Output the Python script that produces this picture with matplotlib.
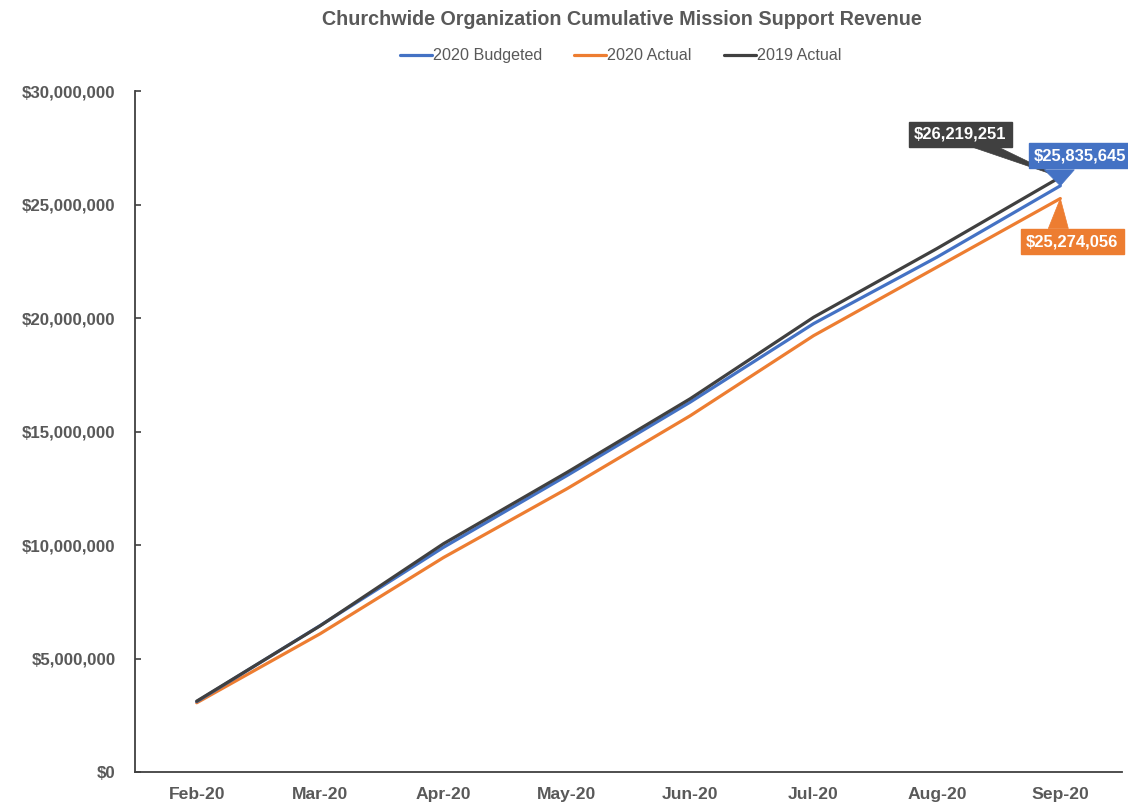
import matplotlib
matplotlib.use("Agg")
import matplotlib.pyplot as plt
from matplotlib.ticker import FuncFormatter
from matplotlib.patches import Polygon
from matplotlib.transforms import IdentityTransform

plt.rcParams['font.family'] = ['Liberation Sans', 'DejaVu Sans']

months = ["Feb-20", "Mar-20", "Apr-20", "May-20", "Jun-20", "Jul-20", "Aug-20", "Sep-20"]
budget_2020 = [3100000, 6450000, 9900000, 13060000, 16300000, 19760000, 22690000, 25835645]
actual_2020 = [3050000, 6090000, 9450000, 12480000, 15700000, 19230000, 22250000, 25274056]
actual_2019 = [3120000, 6440000, 10060000, 13200000, 16450000, 20040000, 23070000, 26219251]

c_blue = "#4472C4"
c_orange = "#ED7D31"
c_gray = "#404040"
txt = "#595959"

fig = plt.figure(figsize=(11.28, 8.08), dpi=100)
ax = fig.add_axes([0.1197, 0.0446, 0.8750, 0.8424])
x = list(range(len(months)))
ax.plot(x, actual_2020, color=c_orange, lw=2.3, label="2020 Actual", zorder=2, solid_capstyle='round')
ax.plot(x, budget_2020, color=c_blue, lw=2.3, label="2020 Budgeted", zorder=3, solid_capstyle='round')
ax.plot(x, actual_2019, color=c_gray, lw=2.3, label="2019 Actual", zorder=4, solid_capstyle='round')

ax.set_xlim(-0.5, len(months) - 0.5)
ax.set_ylim(0, 30000000)
ax.set_yticks(range(0, 30000001, 5000000))
ax.yaxis.set_major_formatter(FuncFormatter(lambda v, p: "${:,.0f}".format(v)))
ax.set_xticks(x)
ax.set_xticklabels(months)
for lab in ax.get_xticklabels():
    lab.set_fontweight('bold')
    lab.set_color(txt)
    lab.set_fontsize(12.6)
for lab in ax.get_yticklabels():
    lab.set_fontweight('bold')
    lab.set_color(txt)
    lab.set_fontsize(12.2)
ax.tick_params(axis='x', length=0, pad=11)
ax.tick_params(axis='y', length=4, direction='in', color=c_gray, width=1.2, pad=14)
for s in ['top', 'right']:
    ax.spines[s].set_visible(False)
for s in ['left', 'bottom']:
    ax.spines[s].set_color(c_gray)
    ax.spines[s].set_linewidth(1.3)

fig.text(0.551, 0.976, "Churchwide Organization Cumulative Mission Support Revenue",
         ha='center', va='center', fontsize=14.2, fontweight='bold', color=txt)

h, l = ax.get_legend_handles_labels()
order = [1, 0, 2]
leg = fig.legend([h[i] for i in order], [l[i] for i in order], loc='center',
                 bbox_to_anchor=(0.55, 0.931), ncol=3, frameon=False, fontsize=11.6,
                 handlelength=2.0, handletextpad=0.05, columnspacing=2.0, labelcolor=txt)

last = len(months) - 1
ident = IdentityTransform()

def callout(val, color, text_off, base):
    px, py = ax.transData.transform((last, val))
    poly = Polygon([(px + base[0][0], py + base[0][1]), (px + base[1][0], py + base[1][1]), (px, py)],
                   closed=True, fc=color, ec=color, lw=0.5, transform=ident, clip_on=False, zorder=9)
    fig.add_artist(poly)
    fig.text(px + text_off[0], py + text_off[1], "${:,.0f}".format(val), transform=ident,
             ha='center', va='center', fontsize=12, fontweight='bold', color='white', zorder=10,
             bbox=dict(boxstyle='square,pad=0.3', fc=color, ec=color))

callout(actual_2019[-1], c_gray, (-100, 43), [(-88, 30), (-62, 30)])
callout(budget_2020[-1], c_blue, (20, 30), [(-16, 16), (14, 16)])
callout(actual_2020[-1], c_orange, (12, -43), [(-12, -30), (8, -30)])

fig.savefig("out.png", dpi=100)
